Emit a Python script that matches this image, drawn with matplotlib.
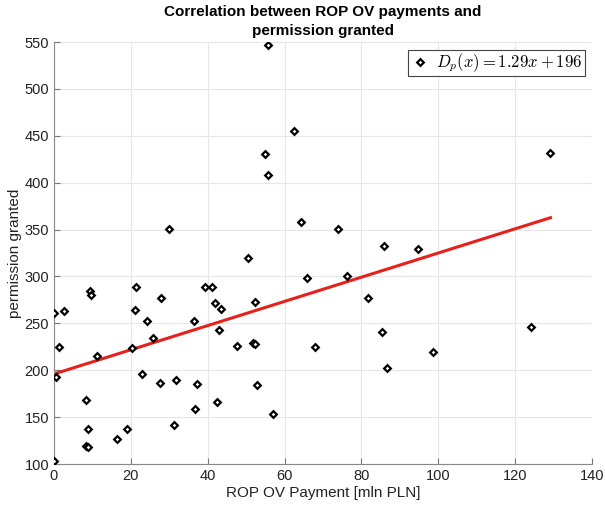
import numpy as np
import matplotlib
matplotlib.use("Agg")
import matplotlib.pyplot as plt

# ROP OV payment [mln PLN] vs permissions granted
payment = [0.0, 1.4, 2.6, 0.4, 0.0, 9.3, 9.5, 8.4, 8.9, 8.3, 8.9, 11.2, 16.3,
           18.9, 20.2, 21.4, 21.1, 24.1, 25.7, 23.0, 27.9, 27.6, 31.8, 31.3,
           55.6, 62.4, 55.0, 55.8, 29.9, 64.4, 73.9, 50.6, 65.8, 76.3, 39.3,
           41.2, 41.8, 43.5, 36.5, 43.0, 47.7, 51.9, 52.3, 52.4, 67.9, 37.3,
           52.9, 36.8, 42.4, 56.9, 86.0, 94.8, 81.8, 85.3, 86.6, 98.6, 124.0,
           129.2]
permission = [261, 225, 263, 193, 103, 284, 280, 168, 137, 119, 118, 215, 127,
              137, 224, 289, 264, 253, 234, 196, 277, 186, 190, 142,
              547, 455, 431, 408, 351, 358, 351, 320, 298, 300, 289,
              289, 272, 265, 252, 243, 226, 229, 228, 273, 225, 185,
              184, 159, 166, 153, 332, 329, 277, 241, 202, 219, 246,
              432]

slope = 1.29
intercept = 196

x_ticks = [0, 20, 40, 60, 80, 100, 120, 140]
y_ticks = [100, 150, 200, 250, 300, 350, 400, 450, 500, 550]

plt.rcParams['font.family'] = ['Liberation Sans', 'DejaVu Sans']
plt.rcParams['mathtext.fontset'] = 'cm'

fig = plt.figure(figsize=(6.05, 5.08), dpi=100)
ax = fig.add_axes([54 / 605, 44 / 508, 538 / 605, 422 / 508])

ax.plot(payment, permission, linestyle='none', marker='D', markersize=3.4,
        markerfacecolor='white', markeredgecolor='black', markeredgewidth=1.6,
        label=r'$D_p(x) = 1.29x + 196$', zorder=3)

xs = np.array([min(payment), max(payment)])
ax.plot(xs, slope * xs + intercept, color='#e8201c', linewidth=2.2, zorder=2)

ax.set_xlim(0, 140)
ax.set_ylim(100, 550)
ax.set_xticks(x_ticks)
ax.set_yticks(y_ticks)
ax.grid(True, color='#e6e6e6', linewidth=0.8)
ax.set_axisbelow(True)
ax.tick_params(direction='in', length=4, colors='#777777', labelcolor='#222222',
               labelsize=10.5)
for side in ['top', 'right']:
    ax.spines[side].set_visible(False)
for side in ['left', 'bottom']:
    ax.spines[side].set_color('#888888')

ax.set_xlabel('ROP OV Payment [mln PLN]', fontsize=11, color='#222222', labelpad=2)
ax.set_ylabel('permission granted', fontsize=11, color='#222222', labelpad=2)
ax.set_title('Correlation between ROP OV payments and\npermission granted',
             fontsize=11, fontweight='bold', pad=5, linespacing=1.45)

leg = ax.legend(loc='upper right', fontsize=12, handletextpad=0.4,
                handlelength=1.2, fancybox=False, framealpha=1,
                borderaxespad=0.45, borderpad=0.12)
leg.get_frame().set_edgecolor('#444444')
leg.get_frame().set_linewidth(0.8)

fig.savefig('out.png', dpi=100)
